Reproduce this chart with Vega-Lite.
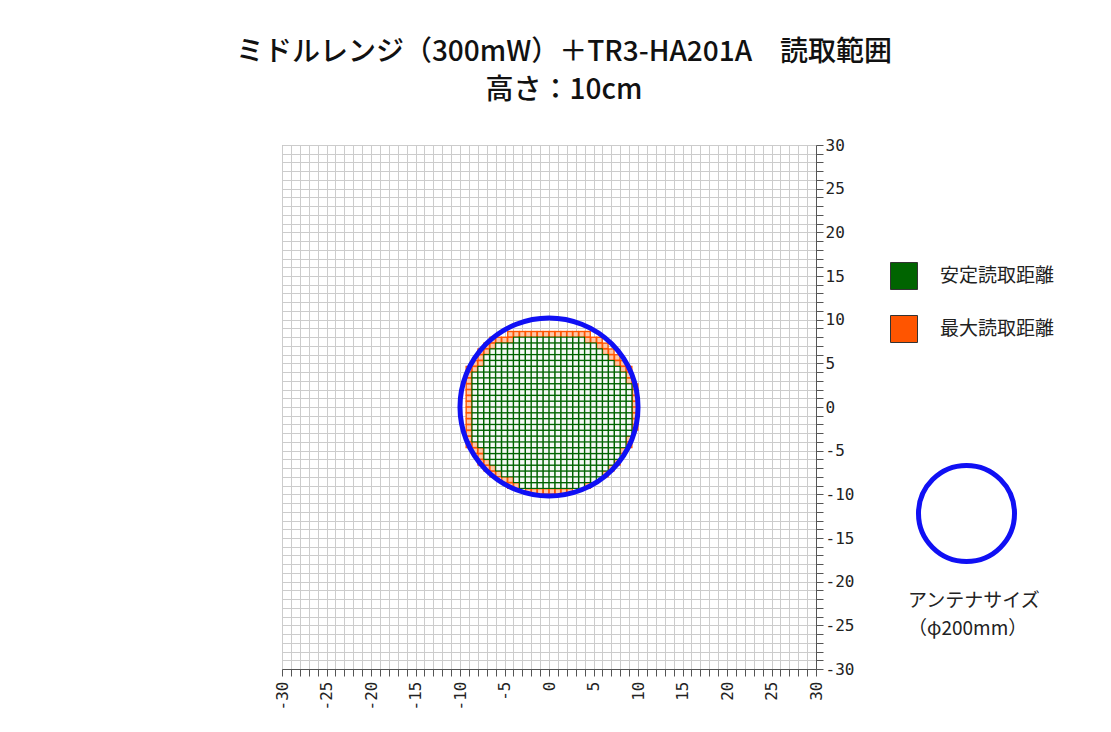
{
"$schema": "https://vega.github.io/schema/vega-lite/v6.json",
"width": 534,
"height": 524,
"autosize": {"type": "none"},
"padding": {"left": 282, "top": 145, "right": 295, "bottom": 63},
"background": "white",
"title": {
  "text": "ミドルレンジ（300mW）＋TR3-HA201A　読取範囲",
  "subtitle": "高さ：10cm",
  "anchor": "middle",
  "frame": "group",
  "dx": 15,
  "offset": 32,
  "font": "Noto Sans CJK JP",
  "fontSize": 28,
  "fontWeight": 500,
  "color": "#111111",
  "subtitleFont": "Noto Sans CJK JP",
  "subtitleFontSize": 28,
  "subtitleFontWeight": 500,
  "subtitleColor": "#111111",
  "subtitlePadding": 10
},
"datasets": {
  "antenna": [{"x": 0, "y": 0}],
  "max": [
{"x":-4.33,"y":8.33},{"x":-3.67,"y":8.33},{"x":-3,"y":8.33},{"x":-2.33,"y":8.33},{"x":-1.67,"y":8.33},{"x":-1,"y":8.33},{"x":-0.33,"y":8.33},{"x":0.33,"y":8.33},{"x":1,"y":8.33},{"x":1.67,"y":8.33},{"x":2.33,"y":8.33},{"x":3,"y":8.33},{"x":3.67,"y":8.33},{"x":4.33,"y":8.33},
{"x":-6.33,"y":7.67},{"x":-5.67,"y":7.67},{"x":-5,"y":7.67},{"x":-4.33,"y":7.67},{"x":4.33,"y":7.67},{"x":5,"y":7.67},{"x":5.67,"y":7.67},
{"x":-7,"y":7},{"x":-6.33,"y":7},{"x":5.67,"y":7},{"x":6.33,"y":7},
{"x":-7.67,"y":6.33},{"x":-7,"y":6.33},{"x":6.33,"y":6.33},{"x":7,"y":6.33},
{"x":-7.67,"y":5.67},{"x":7,"y":5.67},{"x":7.67,"y":5.67},
{"x":-8.33,"y":5},{"x":-7.67,"y":5},{"x":7.67,"y":5},{"x":8.33,"y":5},
{"x":-9,"y":4.33},{"x":-8.33,"y":4.33},{"x":8.33,"y":4.33},{"x":9,"y":4.33},
{"x":-9,"y":3.67},{"x":9,"y":3.67},
{"x":-9,"y":3},{"x":9,"y":3},
{"x":-9,"y":2.33},{"x":9.67,"y":2.33},
{"x":-9,"y":1.67},{"x":9.67,"y":1.67},
{"x":-9,"y":1},{"x":9.67,"y":1},
{"x":-9,"y":0.33},{"x":9.67,"y":0.33},
{"x":-9,"y":-0.33},{"x":9.67,"y":-0.33},
{"x":-9,"y":-1},{"x":9.67,"y":-1},
{"x":-9,"y":-1.67},{"x":9.67,"y":-1.67},
{"x":-9,"y":-2.33},{"x":9.67,"y":-2.33},
{"x":-9,"y":-3},
{"x":-9,"y":-3.67},{"x":9,"y":-3.67},
{"x":-9,"y":-4.33},{"x":-8.33,"y":-4.33},{"x":9,"y":-4.33},
{"x":-8.33,"y":-5},{"x":-7.67,"y":-5},{"x":8.33,"y":-5},
{"x":-7.67,"y":-5.67},
{"x":-7.67,"y":-6.33},{"x":-7,"y":-6.33},{"x":7.67,"y":-6.33},
{"x":-7,"y":-7},{"x":-6.33,"y":-7},{"x":7,"y":-7},
{"x":-6.33,"y":-7.67},{"x":-5.67,"y":-7.67},{"x":6.33,"y":-7.67},
{"x":-5,"y":-8.33},{"x":-4.33,"y":-8.33},
{"x":-4.33,"y":-9},{"x":-3.67,"y":-9},{"x":4.33,"y":-9},
{"x":-2.33,"y":-9.67},{"x":-1.67,"y":-9.67},{"x":-1,"y":-9.67},{"x":-0.33,"y":-9.67},{"x":0.33,"y":-9.67},{"x":1,"y":-9.67},{"x":1.67,"y":-9.67},{"x":2.33,"y":-9.67}
  ],
  "stable": [
{"x":-3.67,"y":7.67},{"x":-3,"y":7.67},{"x":-2.33,"y":7.67},{"x":-1.67,"y":7.67},{"x":-1,"y":7.67},{"x":-0.33,"y":7.67},{"x":0.33,"y":7.67},{"x":1,"y":7.67},{"x":1.67,"y":7.67},{"x":2.33,"y":7.67},{"x":3,"y":7.67},{"x":3.67,"y":7.67},
{"x":-5.67,"y":7},{"x":-5,"y":7},{"x":-4.33,"y":7},{"x":-3.67,"y":7},{"x":-3,"y":7},{"x":-2.33,"y":7},{"x":-1.67,"y":7},{"x":-1,"y":7},{"x":-0.33,"y":7},{"x":0.33,"y":7},{"x":1,"y":7},{"x":1.67,"y":7},{"x":2.33,"y":7},{"x":3,"y":7},{"x":3.67,"y":7},{"x":4.33,"y":7},{"x":5,"y":7},
{"x":-6.33,"y":6.33},{"x":-5.67,"y":6.33},{"x":-5,"y":6.33},{"x":-4.33,"y":6.33},{"x":-3.67,"y":6.33},{"x":-3,"y":6.33},{"x":-2.33,"y":6.33},{"x":-1.67,"y":6.33},{"x":-1,"y":6.33},{"x":-0.33,"y":6.33},{"x":0.33,"y":6.33},{"x":1,"y":6.33},{"x":1.67,"y":6.33},{"x":2.33,"y":6.33},{"x":3,"y":6.33},{"x":3.67,"y":6.33},{"x":4.33,"y":6.33},{"x":5,"y":6.33},{"x":5.67,"y":6.33},
{"x":-7,"y":5.67},{"x":-6.33,"y":5.67},{"x":-5.67,"y":5.67},{"x":-5,"y":5.67},{"x":-4.33,"y":5.67},{"x":-3.67,"y":5.67},{"x":-3,"y":5.67},{"x":-2.33,"y":5.67},{"x":-1.67,"y":5.67},{"x":-1,"y":5.67},{"x":-0.33,"y":5.67},{"x":0.33,"y":5.67},{"x":1,"y":5.67},{"x":1.67,"y":5.67},{"x":2.33,"y":5.67},{"x":3,"y":5.67},{"x":3.67,"y":5.67},{"x":4.33,"y":5.67},{"x":5,"y":5.67},{"x":5.67,"y":5.67},{"x":6.33,"y":5.67},
{"x":-7,"y":5},{"x":-6.33,"y":5},{"x":-5.67,"y":5},{"x":-5,"y":5},{"x":-4.33,"y":5},{"x":-3.67,"y":5},{"x":-3,"y":5},{"x":-2.33,"y":5},{"x":-1.67,"y":5},{"x":-1,"y":5},{"x":-0.33,"y":5},{"x":0.33,"y":5},{"x":1,"y":5},{"x":1.67,"y":5},{"x":2.33,"y":5},{"x":3,"y":5},{"x":3.67,"y":5},{"x":4.33,"y":5},{"x":5,"y":5},{"x":5.67,"y":5},{"x":6.33,"y":5},{"x":7,"y":5},
{"x":-7.67,"y":4.33},{"x":-7,"y":4.33},{"x":-6.33,"y":4.33},{"x":-5.67,"y":4.33},{"x":-5,"y":4.33},{"x":-4.33,"y":4.33},{"x":-3.67,"y":4.33},{"x":-3,"y":4.33},{"x":-2.33,"y":4.33},{"x":-1.67,"y":4.33},{"x":-1,"y":4.33},{"x":-0.33,"y":4.33},{"x":0.33,"y":4.33},{"x":1,"y":4.33},{"x":1.67,"y":4.33},{"x":2.33,"y":4.33},{"x":3,"y":4.33},{"x":3.67,"y":4.33},{"x":4.33,"y":4.33},{"x":5,"y":4.33},{"x":5.67,"y":4.33},{"x":6.33,"y":4.33},{"x":7,"y":4.33},{"x":7.67,"y":4.33},
{"x":-8.33,"y":3.67},{"x":-7.67,"y":3.67},{"x":-7,"y":3.67},{"x":-6.33,"y":3.67},{"x":-5.67,"y":3.67},{"x":-5,"y":3.67},{"x":-4.33,"y":3.67},{"x":-3.67,"y":3.67},{"x":-3,"y":3.67},{"x":-2.33,"y":3.67},{"x":-1.67,"y":3.67},{"x":-1,"y":3.67},{"x":-0.33,"y":3.67},{"x":0.33,"y":3.67},{"x":1,"y":3.67},{"x":1.67,"y":3.67},{"x":2.33,"y":3.67},{"x":3,"y":3.67},{"x":3.67,"y":3.67},{"x":4.33,"y":3.67},{"x":5,"y":3.67},{"x":5.67,"y":3.67},{"x":6.33,"y":3.67},{"x":7,"y":3.67},{"x":7.67,"y":3.67},{"x":8.33,"y":3.67},
{"x":-8.33,"y":3},{"x":-7.67,"y":3},{"x":-7,"y":3},{"x":-6.33,"y":3},{"x":-5.67,"y":3},{"x":-5,"y":3},{"x":-4.33,"y":3},{"x":-3.67,"y":3},{"x":-3,"y":3},{"x":-2.33,"y":3},{"x":-1.67,"y":3},{"x":-1,"y":3},{"x":-0.33,"y":3},{"x":0.33,"y":3},{"x":1,"y":3},{"x":1.67,"y":3},{"x":2.33,"y":3},{"x":3,"y":3},{"x":3.67,"y":3},{"x":4.33,"y":3},{"x":5,"y":3},{"x":5.67,"y":3},{"x":6.33,"y":3},{"x":7,"y":3},{"x":7.67,"y":3},{"x":8.33,"y":3},
{"x":-8.33,"y":2.33},{"x":-7.67,"y":2.33},{"x":-7,"y":2.33},{"x":-6.33,"y":2.33},{"x":-5.67,"y":2.33},{"x":-5,"y":2.33},{"x":-4.33,"y":2.33},{"x":-3.67,"y":2.33},{"x":-3,"y":2.33},{"x":-2.33,"y":2.33},{"x":-1.67,"y":2.33},{"x":-1,"y":2.33},{"x":-0.33,"y":2.33},{"x":0.33,"y":2.33},{"x":1,"y":2.33},{"x":1.67,"y":2.33},{"x":2.33,"y":2.33},{"x":3,"y":2.33},{"x":3.67,"y":2.33},{"x":4.33,"y":2.33},{"x":5,"y":2.33},{"x":5.67,"y":2.33},{"x":6.33,"y":2.33},{"x":7,"y":2.33},{"x":7.67,"y":2.33},{"x":8.33,"y":2.33},{"x":9,"y":2.33},
{"x":-8.33,"y":1.67},{"x":-7.67,"y":1.67},{"x":-7,"y":1.67},{"x":-6.33,"y":1.67},{"x":-5.67,"y":1.67},{"x":-5,"y":1.67},{"x":-4.33,"y":1.67},{"x":-3.67,"y":1.67},{"x":-3,"y":1.67},{"x":-2.33,"y":1.67},{"x":-1.67,"y":1.67},{"x":-1,"y":1.67},{"x":-0.33,"y":1.67},{"x":0.33,"y":1.67},{"x":1,"y":1.67},{"x":1.67,"y":1.67},{"x":2.33,"y":1.67},{"x":3,"y":1.67},{"x":3.67,"y":1.67},{"x":4.33,"y":1.67},{"x":5,"y":1.67},{"x":5.67,"y":1.67},{"x":6.33,"y":1.67},{"x":7,"y":1.67},{"x":7.67,"y":1.67},{"x":8.33,"y":1.67},{"x":9,"y":1.67},
{"x":-8.33,"y":1},{"x":-7.67,"y":1},{"x":-7,"y":1},{"x":-6.33,"y":1},{"x":-5.67,"y":1},{"x":-5,"y":1},{"x":-4.33,"y":1},{"x":-3.67,"y":1},{"x":-3,"y":1},{"x":-2.33,"y":1},{"x":-1.67,"y":1},{"x":-1,"y":1},{"x":-0.33,"y":1},{"x":0.33,"y":1},{"x":1,"y":1},{"x":1.67,"y":1},{"x":2.33,"y":1},{"x":3,"y":1},{"x":3.67,"y":1},{"x":4.33,"y":1},{"x":5,"y":1},{"x":5.67,"y":1},{"x":6.33,"y":1},{"x":7,"y":1},{"x":7.67,"y":1},{"x":8.33,"y":1},{"x":9,"y":1},
{"x":-8.33,"y":0.33},{"x":-7.67,"y":0.33},{"x":-7,"y":0.33},{"x":-6.33,"y":0.33},{"x":-5.67,"y":0.33},{"x":-5,"y":0.33},{"x":-4.33,"y":0.33},{"x":-3.67,"y":0.33},{"x":-3,"y":0.33},{"x":-2.33,"y":0.33},{"x":-1.67,"y":0.33},{"x":-1,"y":0.33},{"x":-0.33,"y":0.33},{"x":0.33,"y":0.33},{"x":1,"y":0.33},{"x":1.67,"y":0.33},{"x":2.33,"y":0.33},{"x":3,"y":0.33},{"x":3.67,"y":0.33},{"x":4.33,"y":0.33},{"x":5,"y":0.33},{"x":5.67,"y":0.33},{"x":6.33,"y":0.33},{"x":7,"y":0.33},{"x":7.67,"y":0.33},{"x":8.33,"y":0.33},{"x":9,"y":0.33},
{"x":-8.33,"y":-0.33},{"x":-7.67,"y":-0.33},{"x":-7,"y":-0.33},{"x":-6.33,"y":-0.33},{"x":-5.67,"y":-0.33},{"x":-5,"y":-0.33},{"x":-4.33,"y":-0.33},{"x":-3.67,"y":-0.33},{"x":-3,"y":-0.33},{"x":-2.33,"y":-0.33},{"x":-1.67,"y":-0.33},{"x":-1,"y":-0.33},{"x":-0.33,"y":-0.33},{"x":0.33,"y":-0.33},{"x":1,"y":-0.33},{"x":1.67,"y":-0.33},{"x":2.33,"y":-0.33},{"x":3,"y":-0.33},{"x":3.67,"y":-0.33},{"x":4.33,"y":-0.33},{"x":5,"y":-0.33},{"x":5.67,"y":-0.33},{"x":6.33,"y":-0.33},{"x":7,"y":-0.33},{"x":7.67,"y":-0.33},{"x":8.33,"y":-0.33},{"x":9,"y":-0.33},
{"x":-8.33,"y":-1},{"x":-7.67,"y":-1},{"x":-7,"y":-1},{"x":-6.33,"y":-1},{"x":-5.67,"y":-1},{"x":-5,"y":-1},{"x":-4.33,"y":-1},{"x":-3.67,"y":-1},{"x":-3,"y":-1},{"x":-2.33,"y":-1},{"x":-1.67,"y":-1},{"x":-1,"y":-1},{"x":-0.33,"y":-1},{"x":0.33,"y":-1},{"x":1,"y":-1},{"x":1.67,"y":-1},{"x":2.33,"y":-1},{"x":3,"y":-1},{"x":3.67,"y":-1},{"x":4.33,"y":-1},{"x":5,"y":-1},{"x":5.67,"y":-1},{"x":6.33,"y":-1},{"x":7,"y":-1},{"x":7.67,"y":-1},{"x":8.33,"y":-1},{"x":9,"y":-1},
{"x":-8.33,"y":-1.67},{"x":-7.67,"y":-1.67},{"x":-7,"y":-1.67},{"x":-6.33,"y":-1.67},{"x":-5.67,"y":-1.67},{"x":-5,"y":-1.67},{"x":-4.33,"y":-1.67},{"x":-3.67,"y":-1.67},{"x":-3,"y":-1.67},{"x":-2.33,"y":-1.67},{"x":-1.67,"y":-1.67},{"x":-1,"y":-1.67},{"x":-0.33,"y":-1.67},{"x":0.33,"y":-1.67},{"x":1,"y":-1.67},{"x":1.67,"y":-1.67},{"x":2.33,"y":-1.67},{"x":3,"y":-1.67},{"x":3.67,"y":-1.67},{"x":4.33,"y":-1.67},{"x":5,"y":-1.67},{"x":5.67,"y":-1.67},{"x":6.33,"y":-1.67},{"x":7,"y":-1.67},{"x":7.67,"y":-1.67},{"x":8.33,"y":-1.67},{"x":9,"y":-1.67},
{"x":-8.33,"y":-2.33},{"x":-7.67,"y":-2.33},{"x":-7,"y":-2.33},{"x":-6.33,"y":-2.33},{"x":-5.67,"y":-2.33},{"x":-5,"y":-2.33},{"x":-4.33,"y":-2.33},{"x":-3.67,"y":-2.33},{"x":-3,"y":-2.33},{"x":-2.33,"y":-2.33},{"x":-1.67,"y":-2.33},{"x":-1,"y":-2.33},{"x":-0.33,"y":-2.33},{"x":0.33,"y":-2.33},{"x":1,"y":-2.33},{"x":1.67,"y":-2.33},{"x":2.33,"y":-2.33},{"x":3,"y":-2.33},{"x":3.67,"y":-2.33},{"x":4.33,"y":-2.33},{"x":5,"y":-2.33},{"x":5.67,"y":-2.33},{"x":6.33,"y":-2.33},{"x":7,"y":-2.33},{"x":7.67,"y":-2.33},{"x":8.33,"y":-2.33},{"x":9,"y":-2.33},
{"x":-8.33,"y":-3},{"x":-7.67,"y":-3},{"x":-7,"y":-3},{"x":-6.33,"y":-3},{"x":-5.67,"y":-3},{"x":-5,"y":-3},{"x":-4.33,"y":-3},{"x":-3.67,"y":-3},{"x":-3,"y":-3},{"x":-2.33,"y":-3},{"x":-1.67,"y":-3},{"x":-1,"y":-3},{"x":-0.33,"y":-3},{"x":0.33,"y":-3},{"x":1,"y":-3},{"x":1.67,"y":-3},{"x":2.33,"y":-3},{"x":3,"y":-3},{"x":3.67,"y":-3},{"x":4.33,"y":-3},{"x":5,"y":-3},{"x":5.67,"y":-3},{"x":6.33,"y":-3},{"x":7,"y":-3},{"x":7.67,"y":-3},{"x":8.33,"y":-3},{"x":9,"y":-3},
{"x":-8.33,"y":-3.67},{"x":-7.67,"y":-3.67},{"x":-7,"y":-3.67},{"x":-6.33,"y":-3.67},{"x":-5.67,"y":-3.67},{"x":-5,"y":-3.67},{"x":-4.33,"y":-3.67},{"x":-3.67,"y":-3.67},{"x":-3,"y":-3.67},{"x":-2.33,"y":-3.67},{"x":-1.67,"y":-3.67},{"x":-1,"y":-3.67},{"x":-0.33,"y":-3.67},{"x":0.33,"y":-3.67},{"x":1,"y":-3.67},{"x":1.67,"y":-3.67},{"x":2.33,"y":-3.67},{"x":3,"y":-3.67},{"x":3.67,"y":-3.67},{"x":4.33,"y":-3.67},{"x":5,"y":-3.67},{"x":5.67,"y":-3.67},{"x":6.33,"y":-3.67},{"x":7,"y":-3.67},{"x":7.67,"y":-3.67},{"x":8.33,"y":-3.67},
{"x":-7.67,"y":-4.33},{"x":-7,"y":-4.33},{"x":-6.33,"y":-4.33},{"x":-5.67,"y":-4.33},{"x":-5,"y":-4.33},{"x":-4.33,"y":-4.33},{"x":-3.67,"y":-4.33},{"x":-3,"y":-4.33},{"x":-2.33,"y":-4.33},{"x":-1.67,"y":-4.33},{"x":-1,"y":-4.33},{"x":-0.33,"y":-4.33},{"x":0.33,"y":-4.33},{"x":1,"y":-4.33},{"x":1.67,"y":-4.33},{"x":2.33,"y":-4.33},{"x":3,"y":-4.33},{"x":3.67,"y":-4.33},{"x":4.33,"y":-4.33},{"x":5,"y":-4.33},{"x":5.67,"y":-4.33},{"x":6.33,"y":-4.33},{"x":7,"y":-4.33},{"x":7.67,"y":-4.33},{"x":8.33,"y":-4.33},
{"x":-7,"y":-5},{"x":-6.33,"y":-5},{"x":-5.67,"y":-5},{"x":-5,"y":-5},{"x":-4.33,"y":-5},{"x":-3.67,"y":-5},{"x":-3,"y":-5},{"x":-2.33,"y":-5},{"x":-1.67,"y":-5},{"x":-1,"y":-5},{"x":-0.33,"y":-5},{"x":0.33,"y":-5},{"x":1,"y":-5},{"x":1.67,"y":-5},{"x":2.33,"y":-5},{"x":3,"y":-5},{"x":3.67,"y":-5},{"x":4.33,"y":-5},{"x":5,"y":-5},{"x":5.67,"y":-5},{"x":6.33,"y":-5},{"x":7,"y":-5},{"x":7.67,"y":-5},
{"x":-7,"y":-5.67},{"x":-6.33,"y":-5.67},{"x":-5.67,"y":-5.67},{"x":-5,"y":-5.67},{"x":-4.33,"y":-5.67},{"x":-3.67,"y":-5.67},{"x":-3,"y":-5.67},{"x":-2.33,"y":-5.67},{"x":-1.67,"y":-5.67},{"x":-1,"y":-5.67},{"x":-0.33,"y":-5.67},{"x":0.33,"y":-5.67},{"x":1,"y":-5.67},{"x":1.67,"y":-5.67},{"x":2.33,"y":-5.67},{"x":3,"y":-5.67},{"x":3.67,"y":-5.67},{"x":4.33,"y":-5.67},{"x":5,"y":-5.67},{"x":5.67,"y":-5.67},{"x":6.33,"y":-5.67},{"x":7,"y":-5.67},{"x":7.67,"y":-5.67},
{"x":-6.33,"y":-6.33},{"x":-5.67,"y":-6.33},{"x":-5,"y":-6.33},{"x":-4.33,"y":-6.33},{"x":-3.67,"y":-6.33},{"x":-3,"y":-6.33},{"x":-2.33,"y":-6.33},{"x":-1.67,"y":-6.33},{"x":-1,"y":-6.33},{"x":-0.33,"y":-6.33},{"x":0.33,"y":-6.33},{"x":1,"y":-6.33},{"x":1.67,"y":-6.33},{"x":2.33,"y":-6.33},{"x":3,"y":-6.33},{"x":3.67,"y":-6.33},{"x":4.33,"y":-6.33},{"x":5,"y":-6.33},{"x":5.67,"y":-6.33},{"x":6.33,"y":-6.33},{"x":7,"y":-6.33},
{"x":-5.67,"y":-7},{"x":-5,"y":-7},{"x":-4.33,"y":-7},{"x":-3.67,"y":-7},{"x":-3,"y":-7},{"x":-2.33,"y":-7},{"x":-1.67,"y":-7},{"x":-1,"y":-7},{"x":-0.33,"y":-7},{"x":0.33,"y":-7},{"x":1,"y":-7},{"x":1.67,"y":-7},{"x":2.33,"y":-7},{"x":3,"y":-7},{"x":3.67,"y":-7},{"x":4.33,"y":-7},{"x":5,"y":-7},{"x":5.67,"y":-7},{"x":6.33,"y":-7},
{"x":-5,"y":-7.67},{"x":-4.33,"y":-7.67},{"x":-3.67,"y":-7.67},{"x":-3,"y":-7.67},{"x":-2.33,"y":-7.67},{"x":-1.67,"y":-7.67},{"x":-1,"y":-7.67},{"x":-0.33,"y":-7.67},{"x":0.33,"y":-7.67},{"x":1,"y":-7.67},{"x":1.67,"y":-7.67},{"x":2.33,"y":-7.67},{"x":3,"y":-7.67},{"x":3.67,"y":-7.67},{"x":4.33,"y":-7.67},{"x":5,"y":-7.67},{"x":5.67,"y":-7.67},
{"x":-3.67,"y":-8.33},{"x":-3,"y":-8.33},{"x":-2.33,"y":-8.33},{"x":-1.67,"y":-8.33},{"x":-1,"y":-8.33},{"x":-0.33,"y":-8.33},{"x":0.33,"y":-8.33},{"x":1,"y":-8.33},{"x":1.67,"y":-8.33},{"x":2.33,"y":-8.33},{"x":3,"y":-8.33},{"x":3.67,"y":-8.33},{"x":4.33,"y":-8.33},{"x":5,"y":-8.33},
{"x":-3,"y":-9},{"x":-2.33,"y":-9},{"x":-1.67,"y":-9},{"x":-1,"y":-9},{"x":-0.33,"y":-9},{"x":0.33,"y":-9},{"x":1,"y":-9},{"x":1.67,"y":-9},{"x":2.33,"y":-9},{"x":3,"y":-9},{"x":3.67,"y":-9}
  ]
},
"encoding": {
  "x": {
    "field": "x", "type": "quantitative",
    "scale": {"domain": [-30, 30], "nice": false, "zero": false},
    "axis": {
      "orient": "bottom", "title": null,
      "values": [-30,-29,-28,-27,-26,-25,-24,-23,-22,-21,-20,-19,-18,-17,-16,-15,-14,-13,-12,-11,-10,-9,-8,-7,-6,-5,-4,-3,-2,-1,0,1,2,3,4,5,6,7,8,9,10,11,12,13,14,15,16,17,18,19,20,21,22,23,24,25,26,27,28,29,30],
      "labelExpr": "datum.value % 5 === 0 ? '' + datum.value : ''",
      "labelAngle": 270,
      "labelFlush": false, "labelOverlap": false, "labelBound": false,
      "grid": true, "gridColor": "#cccccc", "gridWidth": 1,
      "tickSize": 7, "tickColor": "#555555", "domainColor": "#555555",
      "labelFont": "DejaVu Sans Mono", "labelFontSize": 16, "labelColor": "#222222", "labelPadding": 5
    }
  },
  "y": {
    "field": "y", "type": "quantitative",
    "scale": {"domain": [-30, 30], "nice": false, "zero": false},
    "axis": {
      "orient": "right", "title": null,
      "values": [-30,-29,-28,-27,-26,-25,-24,-23,-22,-21,-20,-19,-18,-17,-16,-15,-14,-13,-12,-11,-10,-9,-8,-7,-6,-5,-4,-3,-2,-1,0,1,2,3,4,5,6,7,8,9,10,11,12,13,14,15,16,17,18,19,20,21,22,23,24,25,26,27,28,29,30],
      "labelExpr": "datum.value % 5 === 0 ? '' + datum.value : ''",
      "labelAngle": 0, "labelAlign": "left", "labelBaseline": "middle",
      "labelFlush": false, "labelOverlap": false, "labelBound": false,
      "grid": true, "gridColor": "#cccccc", "gridWidth": 1,
      "tickSize": 7, "tickColor": "#555555", "domainColor": "#555555",
      "labelFont": "DejaVu Sans Mono", "labelFontSize": 16, "labelColor": "#222222", "labelPadding": 2
    }
  }
},
"layer": [
  {
    "data": {"name": "max"},
    "mark": {"type": "square", "size": 47, "opacity": 1},
    "encoding": {
      "fill": {
        "datum": "最大読取距離", "type": "nominal",
        "scale": {"domain": ["安定読取距離", "最大読取距離"], "range": ["#006400", "#ff5500"]},
        "legend": {
          "title": null, "orient": "none", "legendX": 608, "legendY": 117,
          "symbolType": "square", "symbolSize": 729,
          "symbolStrokeColor": "#333333", "symbolStrokeWidth": 1,
          "labelFont": "Noto Sans CJK JP", "labelFontSize": 19, "labelColor": "#222222",
          "labelOffset": 22, "rowPadding": 21, "padding": 0
        }
      }
    }
  },
  {
    "data": {"name": "stable"},
    "mark": {"type": "square", "size": 47, "opacity": 1},
    "encoding": {"fill": {"datum": "安定読取距離", "type": "nominal"}}
  },
  {
    "data": {"name": "max"},
    "mark": {"type": "square", "size": 17, "opacity": 1, "fill": "#ffc8a8"}
  },
  {
    "data": {"name": "stable"},
    "mark": {"type": "square", "size": 20, "opacity": 1, "fill": "#f6f9f6"}
  },
  {
    "data": {"name": "antenna"},
    "mark": {"type": "point", "filled": false, "stroke": "#1010f4", "strokeWidth": 5, "size": 31700, "opacity": 1},
    "encoding": {
      "shape": {
        "datum": "antenna", "type": "nominal",
        "scale": {"range": ["circle"]},
        "legend": {
          "title": ["アンテナサイズ", "（φ200mm）"],
          "orient": "none", "legendX": 626, "legendY": 318,
          "titleOrient": "bottom", "titleAnchor": "start", "titleAlign": "left",
          "titleFont": "Noto Sans CJK JP", "titleFontSize": 19, "titleFontWeight": "normal",
          "titleColor": "#222222", "titleLineHeight": 28, "titlePadding": 20,
          "labelExpr": "''",
          "symbolSize": 9216, "symbolStrokeColor": "#1010f4", "symbolStrokeWidth": 5,
          "symbolFillColor": "transparent", "symbolOffset": 8, "padding": 0
        }
      }
    }
  }
],
"config": {
  "view": {"stroke": "#a0a0a0", "strokeWidth": 1}
}
}
